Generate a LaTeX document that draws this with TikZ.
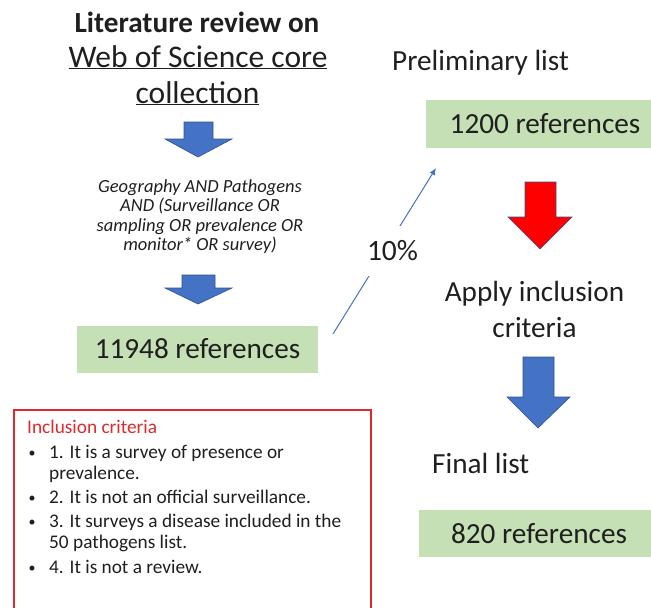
\documentclass[tikz,border=0pt]{standalone}
\usepackage{fontspec}
\setmainfont{Carlito}
\usepackage{tikz}
\usetikzlibrary{arrows.meta}

\definecolor{boxgreen}{HTML}{C5E0B4}
\definecolor{arrowfill}{HTML}{4472C4}
\definecolor{arrowedge}{HTML}{2F528F}
\definecolor{critred}{HTML}{E0282D}
\definecolor{txt}{HTML}{1F1F1F}

\begin{document}
\begin{tikzpicture}[
  x=1pt,y=-1pt,
  >=Latex,
  blk/.style={fill=arrowfill,draw=arrowedge,line width=0.6pt},
  redblk/.style={fill=red,draw=arrowedge,line width=0.6pt},
  big/.style={font=\fontsize{29.2}{35}\selectfont,text=txt,inner sep=0pt},
  refbox/.style={big,fill=boxgreen,minimum height=47pt},
  query/.style={font=\fontsize{18.5}{19.3}\selectfont\itshape,align=center,text=txt,inner sep=0pt},
  link/.style={draw=arrowfill,line width=1pt,-{Latex[length=7pt,width=6pt]}},
  pct/.style={big,font=\fontsize{29.5}{32}\selectfont,fill=white,inner xsep=3pt,inner ysep=15pt,xshift=8pt},
  crit/.style={font=\fontsize{19.3}{22}\selectfont,text=txt,inner sep=0pt,anchor=base west}
]

\clip (0,0) rectangle (651,608);

% search
\node[big,font=\fontsize{29.2}{35}\selectfont\bfseries,anchor=base] (ttl1) at (197,32) {Literature review on};
\node[big,font=\fontsize{31.5}{36}\selectfont,anchor=base] (ttl2) at (198,67) {\underline{Web of Science core}};
\node[big,font=\fontsize{31.5}{36}\selectfont,anchor=base] (ttl3) at (197.5,103) {\underline{collection}};

\draw[blk] (184,122) -- (213,122) -- (213,139) -- (232,139) -- (198,157)
  -- (165,139) -- (184,139) -- cycle;

\node[query] (query) at (200,216.5) {Geography AND Pathogens\\AND (Surveillance OR\\sampling OR prevalence OR\\monitor* OR survey)};

\draw[blk] (182,275) -- (215,275) -- (215,288) -- (232,288) -- (198,304)
  -- (165,288) -- (182,288) -- cycle;

\node[refbox,minimum width=241pt] (all) at (197.5,349) {11948 references};

% sample
\coordinate (linkstart) at (333,334);
\coordinate (linkend) at (436,168);
\draw[link] (linkstart) -- node[pct] (pct) {10\%} (linkend);

\node[big,anchor=base] (prelimlbl) at (480.5,70) {Preliminary list};
\node[refbox,minimum width=238pt,minimum height=48pt] (prelim) at (545,124) {1200 references};

\draw[redblk] (525,182) -- (556,182) -- (556,217) -- (572,217) -- (540,249)
  -- (508,217) -- (525,217) -- cycle;

\node[big,align=center,font=\fontsize{29.2}{36}\selectfont] (apply) at (534.5,309) {Apply inclusion\\criteria};

\draw[blk] (523,357) -- (554,357) -- (554,397) -- (570,397) -- (538,428)
  -- (507,397) -- (523,397) -- cycle;

\node[big,anchor=base west] (finallbl) at (432,473) {Final list};
\node[refbox,minimum width=240pt] (final) at (539,533.5) {820 references};

% criteria
\node[draw=critred,line width=1.2pt,minimum width=357pt,minimum height=210pt,inner sep=0pt] (critbox) at (192.5,515) {};
\node[crit,text=critred] (crithead) at (27,433) {Inclusion criteria};

\foreach \yy/\bul/\txt [count=\i] in {
  458/1/{1. It is a survey of presence or},
  479/0/{prevalence.},
  503/1/{2. It is not an official surveillance.},
  527/1/{3. It surveys a disease included in the},
  548/0/{50 pathogens list.},
  573/1/{4. It is not a review.}}
{
  \node[crit] (crit\i) at (49,\yy) {\txt};
  \ifnum\bul=1
    \node[crit,font=\fontsize{14}{16}\selectfont,anchor=base] (bul\i) at (32,\yy-1) {\textbullet};
  \fi
}

\end{tikzpicture}
\end{document}
